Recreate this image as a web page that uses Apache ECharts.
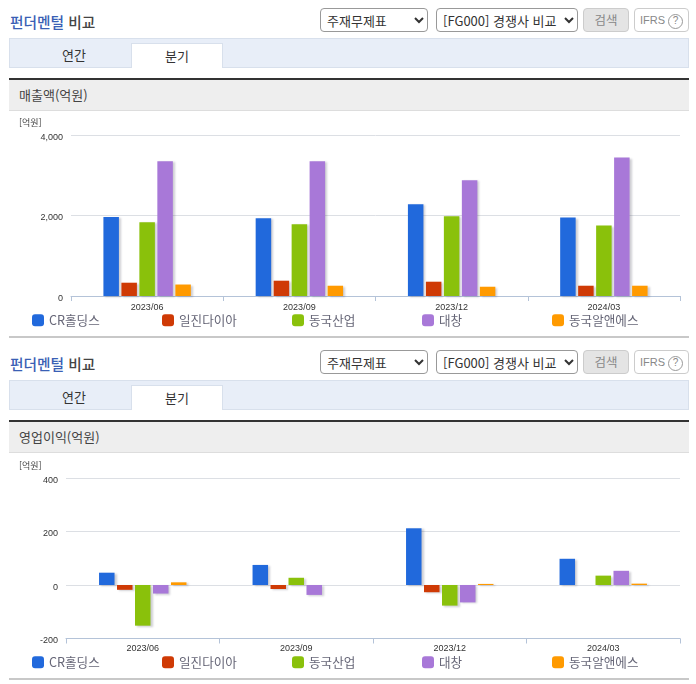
<!DOCTYPE html>
<html lang="ko">
<head>
<meta charset="utf-8">
<title>펀더멘털 비교</title>
<script src="https://cdn.jsdelivr.net/npm/echarts@6/dist/echarts.min.js"></script>
<style>
  html, body { margin: 0; padding: 0; background: #fff; }
  body { position: relative; width: 696px; height: 684px; overflow: hidden; font-family: "Noto Sans CJK KR", sans-serif; color: #333; }
  .abs { position: absolute; box-sizing: border-box; }
  .title { left: 10px; font-size: 14.7px; line-height: 20px; font-weight: 500; color: #444; }
  .title b { font-weight: 500; color: #3a5fb5; }
  select { font-family: "Noto Sans CJK KR", sans-serif; font-size: 13px; height: 24px; background: #fff; border: 1px solid #999; border-radius: 4px; color: #333; padding: 0 0 0 2px; }
  .btn { height: 24px; border-radius: 4px; text-align: center; font-size: 12.5px; line-height: 21px; color: #888; }
  .ifrs { font-size: 11px; font-family: "Liberation Sans", sans-serif; line-height: 22px; }
  .ifrs span { display: inline-block; width: 13px; height: 13px; margin-left: 3px; border: 1px solid #999; border-radius: 50%; line-height: 12px; font-size: 10px; vertical-align: 0; }
  .tabbar { left: 9px; width: 680px; height: 30px; background: #e8eef8; border: 1px solid #d8e0ec; }
  .tab { top: 0; height: 25px; font-size: 13px; line-height: 23px; text-align: center; color: #333; }
  .head { left: 9px; width: 680px; height: 33px; background: #eeeeee; border-top: 2px solid #333; border-bottom: 1px solid #ddd; font-size: 13px; line-height: 29px; padding-left: 10px; color: #444; }
  .rule { left: 9px; width: 680px; height: 2px; background: #c8c8c8; }
  .chart { left: 0; width: 696px; }
</style>
</head>
<body>
<script>
var quarters = ['2023/06', '2023/09', '2023/12', '2024/03'];
var companies = ['CR홀딩스', '일진다이아', '동국산업', '대창', '동국알앤에스'];
var colors = ['#2169dc', '#cf3a05', '#8ac10b', '#a878d8', '#ff9a00'];
var legendLeft = [32, 162, 292, 422, 552];

// 매출액
var salesCr = [1960, 1930, 2280, 1950];
var salesIljin = [330, 380, 355, 255];
var salesDongkuk = [1830, 1780, 1980, 1750];
var salesDaechang = [3350, 3350, 2875, 3440];
var salesRns = [285, 255, 230, 255];

// 영업이익
var profitCr = [46, 75, 212, 98];
var profitIljin = [-18, -15, -27, 0];
var profitDongkuk = [-152, 27, -77, 35];
var profitDaechang = [-32, -37, -65, 53];
var profitRns = [10, 0, 4, 5];

function addBlock(top, label, id, chartTop, chartHeight) {
  var html = ''
    + '<div class="abs title" style="top:' + (top + 12) + 'px"><b>펀더멘털</b> 비교</div>'
    + '<select class="abs" style="left:320px;top:' + (top + 8) + 'px;width:108px"><option>주재무제표</option></select>'
    + '<select class="abs" style="left:436px;top:' + (top + 8) + 'px;width:142px"><option>[FG000] 경쟁사 비교</option></select>'
    + '<div class="abs btn" style="left:583px;top:' + (top + 8) + 'px;width:46px;background:#e4e4e4;border:1px solid #ccc">검색</div>'
    + '<div class="abs btn ifrs" style="left:634px;top:' + (top + 8) + 'px;width:55px;border:1px solid #ccc">IFRS<span>?</span></div>'
    + '<div class="abs tabbar" style="top:' + (top + 38) + 'px"></div>'
    + '<div class="abs tab" style="left:9px;top:' + (top + 43) + 'px;width:130px">연간</div>'
    + '<div class="abs tab" style="left:131px;top:' + (top + 43) + 'px;width:92px;background:#fff;border:1px solid #d8e0ec;border-bottom:0">분기</div>'
    + '<div class="abs head" style="top:' + (top + 78) + 'px">' + label + '</div>'
    + '<div class="abs chart" id="' + id + '" style="top:' + chartTop + 'px;height:' + chartHeight + 'px"></div>'
    + '<div class="abs rule" style="top:' + (chartTop + chartHeight) + 'px"></div>';
  document.body.insertAdjacentHTML('beforeend', html);
}

function drawChart(id, o) {
  var myChart = echarts.init(document.getElementById(id));
  var option = {
    animation: false,
    graphic: [{
      type: 'text',
      left: 19,
      top: o.gridTop - 17,
      style: { text: '[억원]', fontSize: 9, fill: '#444', fontFamily: 'Noto Sans CJK KR' },
    }],
    legend: companies.map(function (name, i) {
      return {
        data: [name],
        left: legendLeft[i],
        top: o.legendTop,
        padding: 0,
        itemWidth: 12,
        itemHeight: 12,
        itemGap: 0,
        icon: 'roundRect',
        selectedMode: false,
        textStyle: { color: '#667', fontSize: 12.6, fontFamily: 'Noto Sans CJK KR' },
      };
    }),
    grid: { left: o.gridLeft, right: 16, top: o.gridTop, height: o.gridHeight },
    xAxis: [{
      type: 'category',
      data: quarters,
      axisLine: { onZero: false, lineStyle: { color: '#b4c3d8' } },
      axisTick: { show: true, length: 5, lineStyle: { color: '#b4c3d8' } },
      axisLabel: { color: '#333', fontSize: 9, margin: o.labelMargin, fontFamily: 'Liberation Sans' },
    }],
    yAxis: [{
      type: 'value',
      min: o.min,
      max: o.max,
      interval: o.interval,
      axisLine: { show: false },
      axisTick: { show: false },
      axisLabel: {
        color: '#333',
        fontSize: 9,
        margin: 8,
        verticalAlign: 'top',
        lineHeight: 5,
        fontFamily: 'Liberation Sans',
        formatter: function (v) { return v.toLocaleString('en-US'); },
      },
      splitLine: { lineStyle: { color: '#dcdfe4' } },
    }],
    series: companies.map(function (name, i) {
      return {
        name: name,
        type: 'bar',
        data: o.values[i],
        barWidth: 15.5,
        barGap: '16%',
        itemStyle: {
          color: colors[i],
          shadowColor: 'rgba(60,60,80,0.25)',
          shadowBlur: 2,
          shadowOffsetX: 2,
          shadowOffsetY: 1,
        },
      };
    }),
  };
  myChart.setOption(option);
}

addBlock(0, '매출액(억원)', 'salesChart', 112, 224);
addBlock(342, '영업이익(억원)', 'profitChart', 454, 224);

drawChart('salesChart', {
  gridLeft: 71, gridTop: 23, gridHeight: 161, legendTop: 202, labelMargin: 7,
  min: 0, max: 4000, interval: 2000,
  values: [salesCr, salesIljin, salesDongkuk, salesDaechang, salesRns],
});
drawChart('profitChart', {
  gridLeft: 66, gridTop: 24, gridHeight: 160.5, legendTop: 202, labelMargin: 6,
  min: -200, max: 400, interval: 200,
  values: [profitCr, profitIljin, profitDongkuk, profitDaechang, profitRns],
});
</script>
</body>
</html>
